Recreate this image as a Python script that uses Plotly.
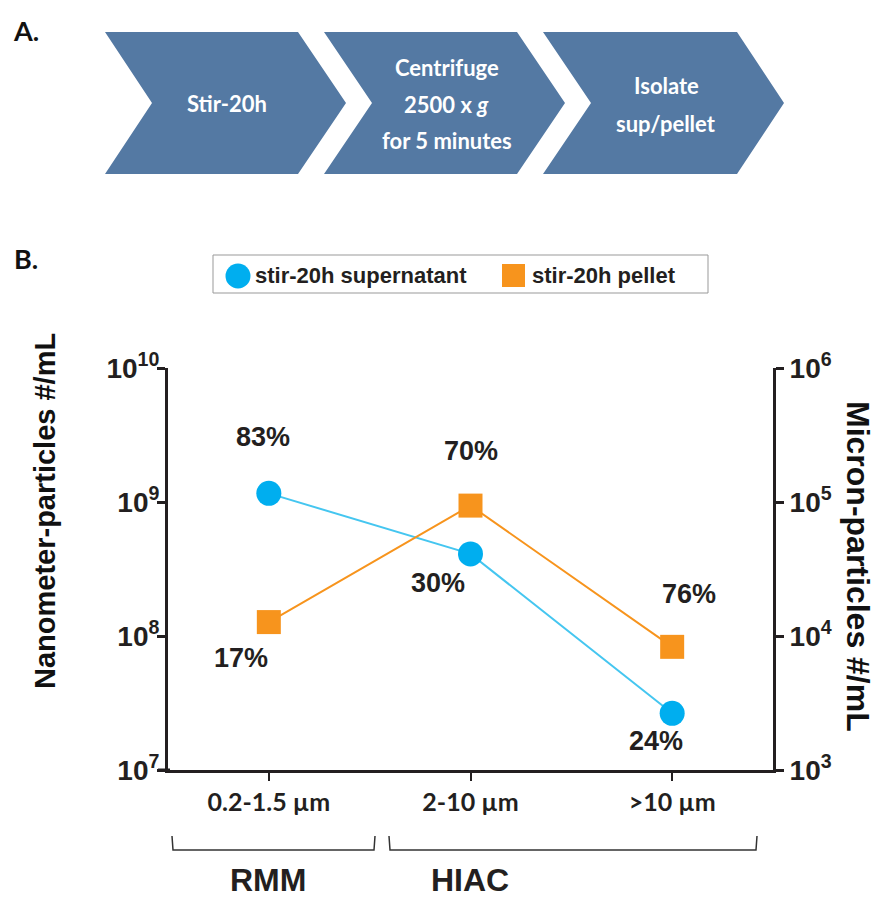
import math
import plotly.graph_objects as go

# ---------------- data ----------------
categories = ["0.2-1.5 µm", "2-10 µm", ">10 µm"]
supernatant = [1.16e9, 4.1e8, 2.65e7]      # left-axis units
pellet = [1.27e8, 9.4e8, 8.3e7]
sup_pct = ["83%", "30%", "24%"]
pel_pct = ["17%", "70%", "76%"]
left_ticks = [1e7, 1e8, 1e9, 1e10]
left_ticktext = ["10<sup>7</sup>", "10<sup>8</sup>", "10<sup>9</sup>", "10<sup>10</sup>"]
right_ticks = [1e3, 1e4, 1e5, 1e6]
right_ticktext = ["10<sup>3</sup>", "10<sup>4</sup>", "10<sup>5</sup>", "10<sup>6</sup>"]
steps = [["Stir-20h"], ["Centrifuge", "2500 x <i>g</i>", "for 5 minutes"], ["Isolate", "sup/pellet"]]
series_names = ["stir-20h supernatant", "stir-20h pellet"]
groups = ["RMM", "HIAC"]

BLUE = "#00AEEF"
BLUE_LINE = "#45C6F0"
ORANGE = "#F7941D"
CHEV = "#5479A3"
DARK = "#231F20"

W, H = 890, 898
L, R, T, B = 168, 773, 368, 770
pw, ph = R - L, B - T


def px(x):
    return (x - L) / pw


def py(y):
    return (B - y) / ph


def note(x, y, text, font, **kw):
    d = dict(x=px(x), y=py(y), xref="paper", yref="paper", text=text,
             showarrow=False, xanchor="center", yanchor="middle", font=font)
    d.update(kw)
    return d


fig = go.Figure()
fig.add_trace(go.Scatter(
    x=categories, y=supernatant, name=series_names[0], mode="lines+markers",
    line=dict(color=BLUE_LINE, width=2),
    marker=dict(color=BLUE, size=25, symbol="circle"), showlegend=False))
fig.add_trace(go.Scatter(
    x=categories, y=pellet, name=series_names[1], mode="lines+markers",
    line=dict(color=ORANGE, width=2),
    marker=dict(color=ORANGE, size=24, symbol="square"), showlegend=False))
# invisible trace so the right (micron-particles) axis is drawn
fig.add_trace(go.Scatter(
    x=[categories[0], categories[-1]], y=[right_ticks[0], right_ticks[-1]], yaxis="y2",
    mode="markers", marker=dict(opacity=0), showlegend=False, hoverinfo="skip"))

annotations = []
shapes = []

# percentage labels
pct_font = dict(family="Liberation Sans", size=27, color=DARK, weight="bold")
sup_off = [(-6, 56), (-33, -29), (-16, -28)]
pel_off = [(-28, -36), (0, 55), (17, 53)]
for i, c in enumerate(categories):
    annotations.append(dict(x=i, y=math.log10(supernatant[i]), xref="x", yref="y",
                            text=sup_pct[i], showarrow=False, xanchor="center", yanchor="middle",
                            xshift=sup_off[i][0], yshift=sup_off[i][1], font=pct_font))
    annotations.append(dict(x=i, y=math.log10(pellet[i]), xref="x", yref="y",
                            text=pel_pct[i], showarrow=False, xanchor="center", yanchor="middle",
                            xshift=pel_off[i][0], yshift=pel_off[i][1], font=pct_font))

# Panel labels
for txt, yy in [("A.", 30), ("B.", 258)]:
    annotations.append(note(26, yy, txt, dict(family="Lato", size=27, color="#111", weight="bold")))

# chevrons
chev = [(105, 152, 298, 346), (324, 372, 517, 565), (543, 591, 737, 784)]
top, bot, mid = 32, 174, 103
line_y = [[103], [67, 104, 141], [85, 123]]
for (x0, notch, tr, tip), lines, ys in zip(chev, steps, line_y):
    path = (f"M {px(x0)},{py(top)} L {px(tr)},{py(top)} L {px(tip)},{py(mid)} "
            f"L {px(tr)},{py(bot)} L {px(x0)},{py(bot)} L {px(notch)},{py(mid)} Z")
    shapes.append(dict(type="path", path=path, xref="paper", yref="paper",
                       fillcolor=CHEV, line=dict(width=0)))
    cx = (notch + tr) / 2 + 2
    for t, yy in zip(lines, ys):
        annotations.append(note(cx, yy, t, dict(family="Lato", size=22, color="white", weight="bold")))

# legend box
shapes.append(dict(type="rect", xref="paper", yref="paper",
                   x0=px(213), x1=px(708), y0=py(293), y1=py(255),
                   line=dict(color="#999999", width=1), fillcolor="white"))
shapes.append(dict(type="circle", xref="paper", yref="paper",
                   x0=px(225.5), x1=px(250.5), y0=py(288.5), y1=py(263.5),
                   line=dict(width=0), fillcolor=BLUE))
shapes.append(dict(type="rect", xref="paper", yref="paper",
                   x0=px(502), x1=px(525), y0=py(287), y1=py(264),
                   line=dict(width=0), fillcolor=ORANGE))
for txt, xx in [(series_names[0], 253), (series_names[1], 530)]:
    annotations.append(note(xx, 275, txt,
                            dict(family="Liberation Sans", size=22, color=DARK, weight="bold"),
                            xanchor="left"))

# axis titles
annotations.append(note(45, 511, "Nanometer-particles #/mL",
                        dict(family="Liberation Sans", size=29, color="#111", weight="bold"),
                        textangle=-90))
annotations.append(note(858, 566, "Micron-particles #/mL",
                        dict(family="Liberation Sans", size=32, color="#111", weight="bold"),
                        textangle=90))

# x-axis line extension to the left of the y axis
shapes.append(dict(type="line", xref="paper", yref="paper",
                   x0=px(158), x1=px(170), y0=0, y1=0,
                   line=dict(color="#231F20", width=3)))

# brackets
for (x0, x1), g, gx in zip([(172, 375), (389, 757)], groups, [268, 470]):
    shapes.append(dict(type="path", xref="paper", yref="paper",
                       path=f"M {px(x0)},{py(836)} L {px(x0+1)},{py(850)} L {px(x1-1)},{py(850)} L {px(x1)},{py(836)}",
                       line=dict(color="#333", width=1.5)))
    annotations.append(note(gx, 880, g, dict(family="Liberation Sans", size=32, color=DARK, weight="bold")))

fig.update_layout(
    width=W, height=H,
    margin=dict(l=L, r=W - R, t=T, b=H - B, autoexpand=False),
    paper_bgcolor="white", plot_bgcolor="white",
    shapes=shapes, annotations=annotations,
    xaxis=dict(type="category", range=[-0.5, 2.5], showgrid=False, zeroline=False,
               showline=True, linecolor="#231F20", linewidth=3,
               ticks="outside", ticklen=8, tickwidth=2, tickcolor="#231F20",
               tickfont=dict(family="Lato", size=25, color=DARK, weight="bold")),
    yaxis=dict(type="log", range=[7, 10], showgrid=False, zeroline=False,
               showline=True, linecolor="#231F20", linewidth=3,
               ticks="outside", ticklen=8, tickwidth=3, tickcolor="#231F20",
               ticklabelstandoff=-8,
               tickvals=left_ticks, ticktext=left_ticktext,
               tickfont=dict(family="Liberation Sans", size=28, color=DARK, weight="bold")),
    yaxis2=dict(type="log", range=[3, 6], overlaying="y", side="right", anchor="x",
                showgrid=False, zeroline=False,
                showline=True, linecolor="#231F20", linewidth=3,
                ticks="outside", ticklen=8, tickwidth=3, tickcolor="#231F20",
                tickvals=right_ticks, ticktext=right_ticktext,
                tickfont=dict(family="Liberation Sans", size=28, color=DARK, weight="bold")),
)

fig.write_html("out.html")
